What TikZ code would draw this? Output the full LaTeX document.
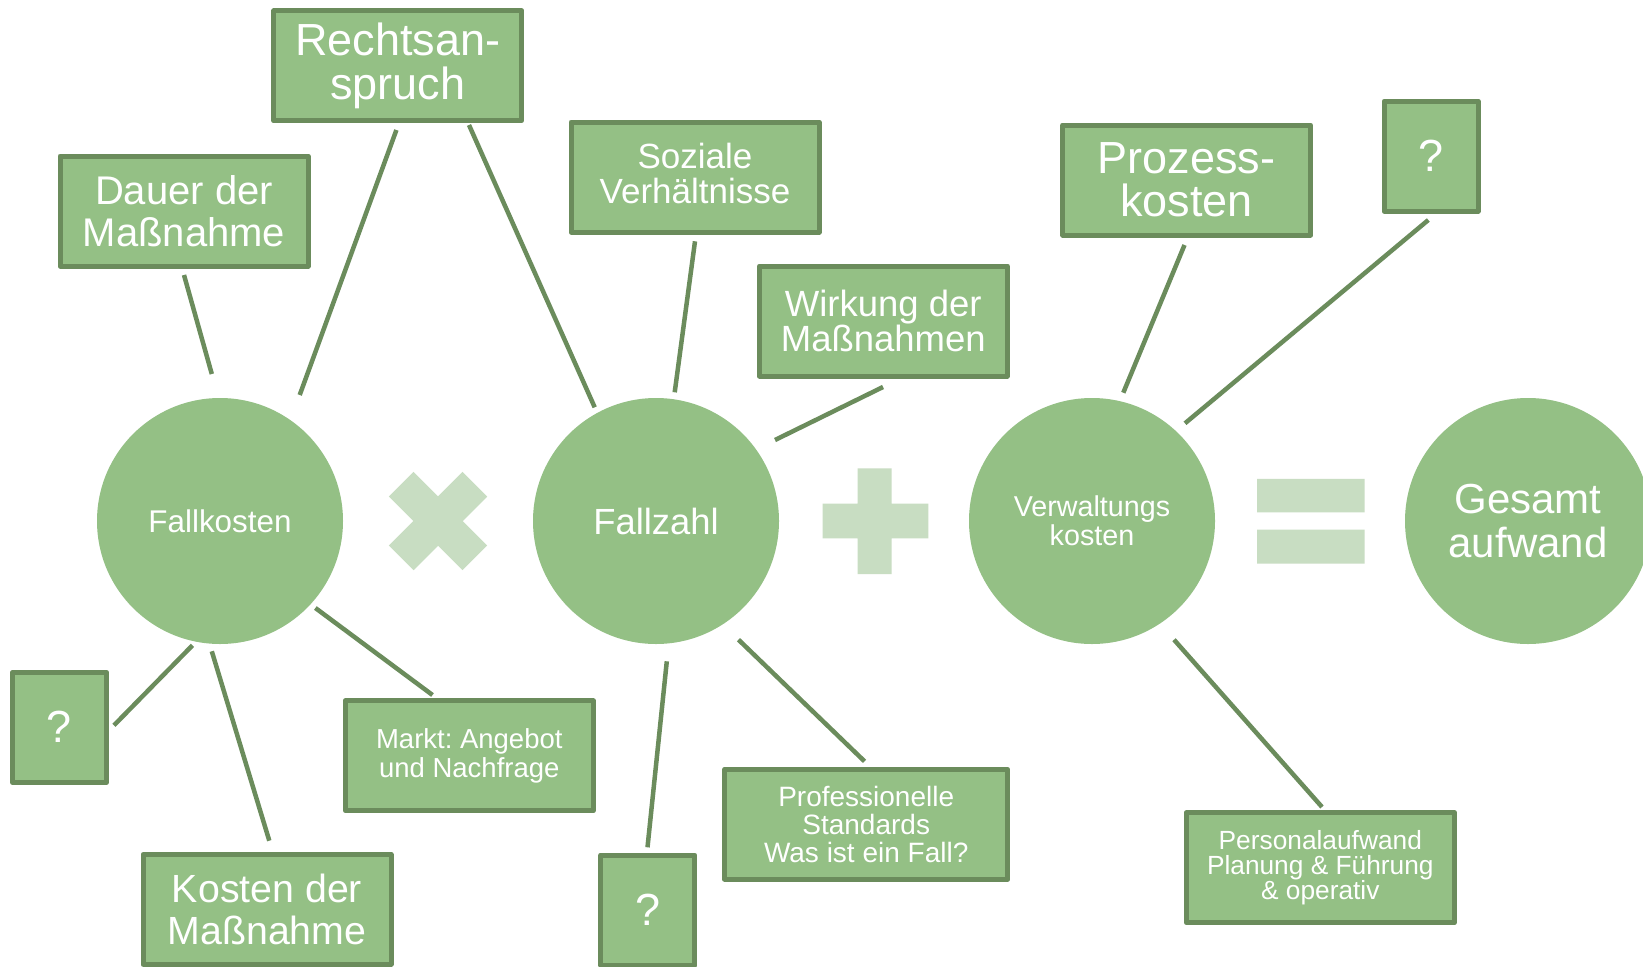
\documentclass[tikz,border=0pt]{standalone}
\usepackage{fontspec}
\setmainfont{Liberation Sans}
\frenchspacing

\definecolor{leaf}{RGB}{148,192,133}
\definecolor{stem}{RGB}{107,140,92}
\definecolor{pale}{RGB}{200,221,194}

% font size and leading in one go
\newcommand\fsz[2]{\fontsize{#1}{#2}\selectfont}
% invisible depth that lifts a text block inside its box
\newcommand\lift[1]{\rule[-#1]{0pt}{0pt}}

\begin{document}
\begin{tikzpicture}[x=1pt,y=-1pt,
  card/.style={draw=stem, fill=leaf, line width=5pt, line join=round,
    inner sep=0pt, minimum width=248pt, minimum height=110pt,
    text=white, align=center},
  qcard/.style={card, minimum width=94pt},
  disc/.style={circle, fill=leaf, minimum size=246pt, inner sep=0pt,
    text=white, align=center},
  link/.style={draw=stem, line width=4.5pt},
  sign/.style={fill=pale}]

\clip (0,0) rectangle (1643,966);
\fill[white] (0,0) rectangle (1643,966);

% the four terms of the equation
\node[disc, font=\fsz{31.4}{33}] (fallkosten) at (220,521) {Fallkosten};
\node[disc, font=\fsz{36.4}{38}] (fallzahl) at (656,521) {Fallzahl};
\node[disc, font=\fsz{28.7}{29.3}] (verwaltung) at (1092,521) {Verwaltungs\\kosten};
\node[disc, font=\fsz{42}{44.7}] (gesamt) at (1528,521) {Gesamt\\aufwand};

% operators: times, plus, equals
\fill[sign, rotate around={45:(438,521)}]
  (386,503.5) rectangle (490,538.5)
  (420.5,469) rectangle (455.5,573);
\fill[sign] (822.5,503.7) rectangle (928.4,538.3)
            (857.7,468.4) rectangle (891.7,574);
\fill[sign] (1257,478.8) rectangle (1364.5,512.3)
            (1257,529.7) rectangle (1364.5,563.7);

% influencing factors
\node[card, font=\fsz{40}{41.7}] (dauer) at (184,211) {Dauer der\\Maßnahme};
\node[card, font=\fsz{45}{44}] (recht) at (397.8,65.8) {Rechtsan-\\spruch};
\node[card, font=\fsz{35}{35}] (sozial) at (695,177) {Soziale\\Verhältnisse\lift{7.4pt}};
\node[card, font=\fsz{36.5}{33}] (wirkung) at (883.3,321) {Wirkung der\\Maßnahmen};
\node[card, font=\fsz{45}{43}] (prozess) at (1186.7,180) {Prozess-\\kosten};
\node[qcard, font=\fsz{45}{45}] (qoben) at (1431.2,156.2) {?};
\node[qcard, font=\fsz{45}{45}] (qlinks) at (59.5,727.2) {?};
\node[card, font=\fsz{39.3}{41.7}] (kosten) at (267,909.3) {Kosten der\\Maßnahme};
\node[card, font=\fsz{27.5}{28.4}] (markt) at (469.3,755.8) {Markt: Angebot\\und Nachfrage};
\node[qcard, font=\fsz{45}{45}] (qunten) at (647.8,910) {?};
\node[card, minimum width=283pt, font=\fsz{28}{28}] (standards) at (866.2,824.2)
  {Professionelle\\Standards\\Was ist ein Fall?};
\node[card, minimum width=268pt, font=\fsz{26.3}{25.3}] (personal) at (1320.3,867.7)
  {Personalaufwand\\Planung \& Führung\\\& operativ};

% connector ends (the lines stop short of the shapes)
\coordinate (dauer-a) at (184,275);       \coordinate (dauer-b) at (211.8,374);
\coordinate (rechtL-a) at (396.4,130);    \coordinate (rechtL-b) at (299.7,395);
\coordinate (rechtR-a) at (469,125);      \coordinate (rechtR-b) at (594.7,407.3);
\coordinate (sozial-a) at (695,241.3);    \coordinate (sozial-b) at (674.7,392.3);
\coordinate (wirkung-a) at (883,387);     \coordinate (wirkung-b) at (775,440);
\coordinate (prozess-a) at (1184.5,245);  \coordinate (prozess-b) at (1123.3,392.7);
\coordinate (qoben-a) at (1428.3,220);    \coordinate (qoben-b) at (1185,423.3);
\coordinate (qlinks-a) at (114,725.3);    \coordinate (qlinks-b) at (192.5,645.3);
\coordinate (kosten-a) at (269.3,840.7);  \coordinate (kosten-b) at (211.8,651.3);
\coordinate (markt-a) at (432.5,695);     \coordinate (markt-b) at (315.4,608);
\coordinate (qunten-a) at (647.5,847.3);  \coordinate (qunten-b) at (666.8,661.3);
\coordinate (standards-a) at (864.5,761.3); \coordinate (standards-b) at (738.5,639.7);
\coordinate (personal-a) at (1322,807);   \coordinate (personal-b) at (1174,639.7);

\draw[link] (dauer-a) -- (dauer-b);
\draw[link] (rechtL-a) -- (rechtL-b);
\draw[link] (rechtR-a) -- (rechtR-b);
\draw[link] (sozial-a) -- (sozial-b);
\draw[link] (wirkung-a) -- (wirkung-b);
\draw[link] (prozess-a) -- (prozess-b);
\draw[link] (qoben-a) -- (qoben-b);
\draw[link] (qlinks-a) -- (qlinks-b);
\draw[link] (kosten-a) -- (kosten-b);
\draw[link] (markt-a) -- (markt-b);
\draw[link] (qunten-a) -- (qunten-b);
\draw[link] (standards-a) -- (standards-b);
\draw[link] (personal-a) -- (personal-b);
\end{tikzpicture}
\end{document}
